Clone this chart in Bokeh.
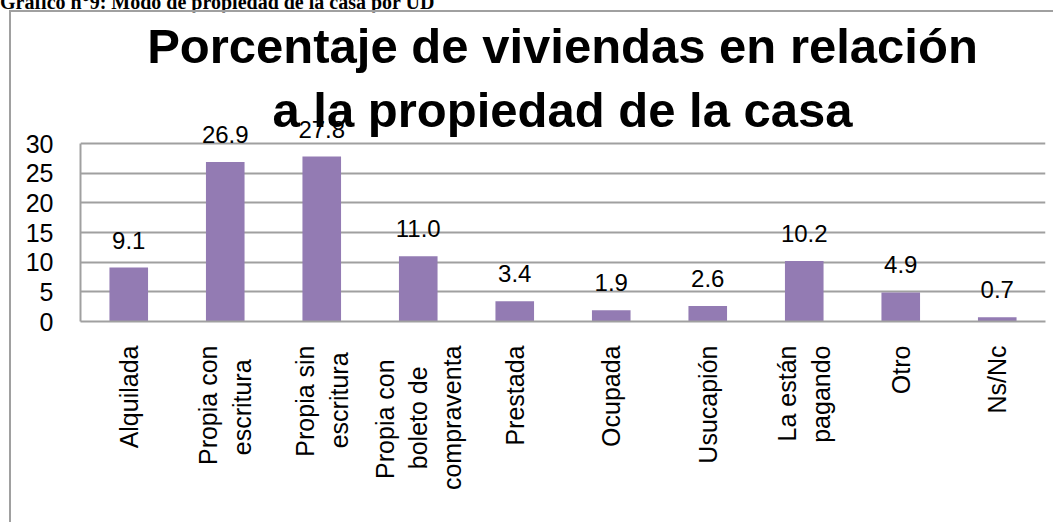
import math
from bokeh.plotting import figure
from bokeh.layouts import column
from bokeh.models import ColumnDataSource, Label, LabelSet, FixedTicker, Div
from bokeh.core.properties import value
from bokeh.embed import file_html
from bokeh.resources import INLINE

header = "Gráfico n°9: Modo de propiedad de la casa por UD"
title_lines = ["Porcentaje de viviendas en relación", "a la propiedad de la casa"]
categories = ["Alquilada", "Propia con\nescritura", "Propia sin\nescritura",
              "Propia con\nboleto de\ncompraventa", "Prestada", "Ocupada",
              "Usucapión", "La están\npagando", "Otro", "Ns/Nc"]
values = [9.1, 26.9, 27.8, 11.0, 3.4, 1.9, 2.6, 10.2, 4.9, 0.7]
value_labels = ["%.1f" % v for v in values]
y_ticks = [0, 5, 10, 15, 20, 25, 30]

FONT = "Liberation Sans"
GREY = "#a0a0a0"
BAR = "#937bb3"

# layout (canvas pixels)
W, H = 1044, 512
LEFT, RIGHT, BOTTOM = 69, 10, 203
AXIS_H = 178            # pixels covered by 0..30
frame_h = H - BOTTOM    # frame reaches canvas top so texts above the axis are not clipped
y_top = 30 * frame_h / AXIS_H

# Bokeh aligns the lines of a rotated tick label to the axis end; trailing
# no-break spaces on the shorter lines approximate the centred lines of the original.
NB = "\u00a0"
ADV = {" ": 278, "c": 500, "i": 222, "l": 222, "m": 833, "r": 333, "s": 500,
       "t": 278, "v": 500, "P": 667}
def width(s):
    return sum(ADV.get(ch, 556) for ch in s)
def centred(label):
    lines = label.split("\n")
    if len(lines) == 1:
        return label
    widest = max(width(l) for l in lines)
    return "\n".join(l + NB * round((widest - width(l)) / 2 / 278) for l in lines)
factors = [centred(c) for c in categories]

src = ColumnDataSource(dict(cat=factors, val=values, lab=value_labels))

fig = figure(x_range=factors, y_range=(0, y_top), width=W, height=H,
             output_backend="svg", toolbar_location=None,
             min_border_left=LEFT, min_border_right=RIGHT, min_border_top=0,
             min_border_bottom=BOTTOM, margin=(0, 0, 0, 9))
fig.styles = {"border-left": "2px solid " + GREY, "border-top": "2px solid " + GREY}
fig.outline_line_color = None
fig.background_fill_color = "white"
fig.border_fill_color = "white"

fig.vbar(x="cat", top="val", width=0.4, source=src, fill_color=BAR, line_color=None)

fig.add_layout(LabelSet(x="cat", y="val", text="lab", source=src, y_offset=19,
                        text_align="center", text_baseline="alphabetic",
                        text_font=value(FONT), text_font_size="24px", text_color="black"))

fig.yaxis.ticker = FixedTicker(ticks=y_ticks)
fig.yaxis.bounds = (0, 30)
fig.yaxis.axis_line_color = GREY
fig.yaxis.axis_line_width = 2
fig.yaxis.major_tick_line_color = None
fig.yaxis.minor_tick_line_color = None
fig.yaxis.major_label_text_font = FONT
fig.yaxis.major_label_text_font_size = "25px"
fig.yaxis.major_label_text_color = "black"
fig.yaxis.major_label_standoff = 21

fig.xaxis.axis_line_color = GREY
fig.xaxis.axis_line_width = 2
fig.xaxis.major_tick_line_color = None
fig.xaxis.major_label_orientation = math.pi / 2
fig.xaxis.major_label_text_font = FONT
fig.xaxis.major_label_text_font_size = "25px"
fig.xaxis.major_label_text_color = "black"
fig.xaxis.major_label_standoff = 18

fig.xgrid.grid_line_color = None
fig.ygrid.grid_line_color = GREY
fig.ygrid.grid_line_width = 2

for i, t in enumerate(title_lines):
    fig.add_layout(Label(x=549, y=31 + 64 * i, x_units="canvas", y_units="canvas", text=t,
                         text_font=FONT, text_font_style="bold", text_font_size="49px",
                         text_color="black", text_baseline="alphabetic", text_align="center"))

head = Div(text=header, width=700, height=16, margin=(-6, 0, 0, 0),
           styles={"font-family": "Liberation Serif", "font-weight": "bold",
                   "font-size": "20px", "line-height": "16px",
                   "white-space": "nowrap", "color": "black"})

p = column(head, fig, spacing=0)

open("out.html", "w").write(file_html(p, INLINE))
